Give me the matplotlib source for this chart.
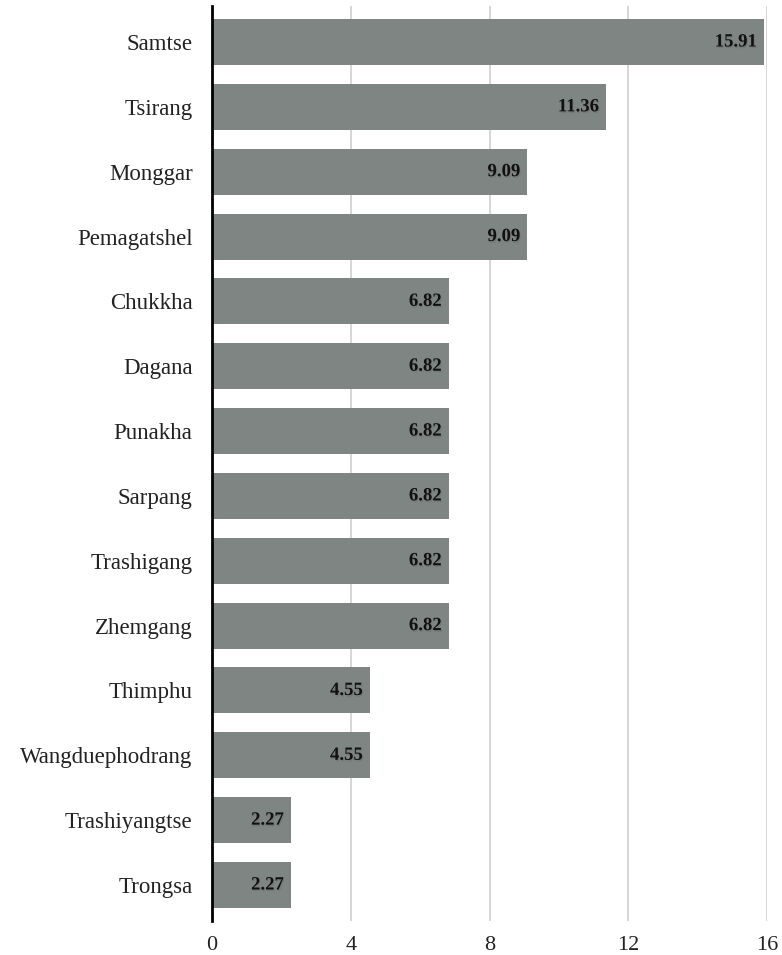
import matplotlib.pyplot as plt
import matplotlib.patheffects as pe
import numpy as np

districts = ["Samtse", "Tsirang", "Monggar", "Pemagatshel", "Chukkha", "Dagana",
             "Punakha", "Sarpang", "Trashigang", "Zhemgang", "Thimphu",
             "Wangduephodrang", "Trashiyangtse", "Trongsa"]
shares = [15.91, 11.36, 9.09, 9.09, 6.82, 6.82, 6.82, 6.82, 6.82, 6.82,
          4.55, 4.55, 2.27, 2.27]
xticks = [0, 4, 8, 12, 16]

plt.rcParams['font.family'] = ['Liberation Serif', 'DejaVu Serif']

fig = plt.figure(figsize=(7.82, 9.55), dpi=100)
ax = fig.add_axes([212 / 782, 34 / 955, 555 / 782, 915 / 955])

y = np.arange(len(districts))
ax.barh(y, shares, height=0.71, color='#7f8582', zorder=2)

# value labels, right-aligned inside each bar with a faint shadow
for yi, v in zip(y, shares):
    ax.text(v - 0.2, yi, f"{v:.2f}", ha='right', va='center', fontsize=13.5,
            fontweight='bold', color='#111111', zorder=3,
            path_effects=[pe.withSimplePatchShadow(offset=(0.8, -1.2),
                                                   shadow_rgbFace='#4a4a4a', alpha=0.18)])

ax.set_ylim(len(districts) - 0.445, -0.555)
ax.set_xlim(0, 16)
ax.set_yticks(y)
ax.set_yticklabels(districts, fontsize=16.5)
ax.set_xticks(xticks)
ax.set_xticklabels([str(t) for t in xticks], fontsize=16)
ax.tick_params(axis='both', length=0, colors='#222222')
ax.tick_params(axis='y', pad=14)
ax.tick_params(axis='x', pad=11)

ax.grid(axis='x', color='#d0d0d0', linewidth=1.2, zorder=0)
for side in ['top', 'right', 'bottom']:
    ax.spines[side].set_visible(False)
ax.spines['left'].set_linewidth(2)
ax.spines['left'].set_color('black')
ax.spines['left'].set_zorder(4)

fig.savefig('out.png', dpi=100)
